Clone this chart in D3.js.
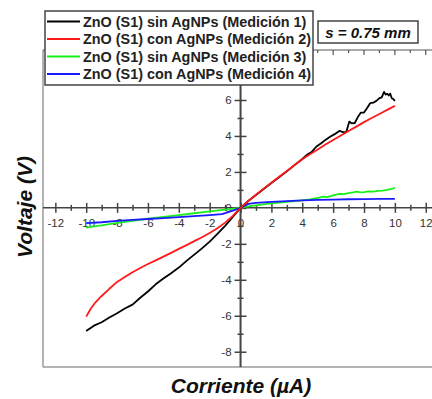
<!DOCTYPE html>
<html>
<head>
<meta charset="utf-8">
<script src="https://cdn.jsdelivr.net/npm/d3@7"></script>
<style>
  body { margin:0; background:#fff; }
  text { font-family: "Liberation Sans", Arial, sans-serif; }
</style>
</head>
<body>
<div id="svg"></div>
<script>
// series: [corriente (uA), voltaje (V)]
var med1 = [[-10,-6.85],[-9.5,-6.55],[-9,-6.36],[-8.5,-6.1],[-8,-5.86],[-7.5,-5.6],[-7,-5.38],[-6.5,-5.0],[-6,-4.65],[-5.5,-4.25],
  [-5,-3.93],[-4.5,-3.63],[-4,-3.32],[-3.5,-2.95],[-3,-2.6],[-2.5,-2.25],[-2,-1.88],[-1.5,-1.45],[-1,-1.0],[-0.5,-0.5],
  [0,0],[0.5,0.38],[1,0.72],[1.5,1.05],[2,1.38],[2.5,1.7],[3,2.03],[3.5,2.38],[4,2.72],[4.3,2.95],[4.6,3.1],[4.9,3.4],
  [5.2,3.58],[5.5,3.78],[5.8,3.95],[6.1,4.1],[6.4,4.28],[6.7,4.2],[6.85,4.22],[7.05,4.8],[7.2,4.7],[7.4,4.72],[7.6,5.05],
  [7.8,5.3],[8.0,5.3],[8.2,5.55],[8.4,5.82],[8.6,5.85],[8.8,5.95],[9.0,6.1],[9.15,6.15],[9.3,6.45],[9.4,6.3],[9.5,6.35],
  [9.6,6.25],[9.7,6.35],[9.8,6.1],[9.9,6.05],[10,5.95]];
var med2 = [[-10,-6.05],[-9.7,-5.6],[-9.4,-5.25],[-9,-4.9],[-8.5,-4.5],[-8,-4.12],[-7.5,-3.85],[-7,-3.58],[-6.5,-3.34],[-6,-3.12],
  [-5.5,-2.92],[-5,-2.71],[-4.5,-2.5],[-4,-2.28],[-3.5,-2.07],[-3,-1.85],[-2.5,-1.63],[-2,-1.4],[-1.5,-1.13],[-1,-0.82],[-0.5,-0.45],
  [0,0],[0.5,0.38],[1,0.73],[1.5,1.07],[2,1.4],[2.5,1.73],[3,2.05],[3.5,2.38],[4,2.7],[4.5,2.98],[5,3.25],[5.5,3.52],[6,3.78],
  [6.5,4.03],[7,4.28],[7.5,4.52],[8,4.77],[8.5,5.0],[9,5.22],[9.5,5.45],[10,5.67]];
var med3 = [[-10,-1.1],[-9.5,-1.03],[-9,-0.97],[-8.5,-0.9],[-8,-0.84],[-7,-0.72],[-6,-0.6],[-5,-0.5],[-4,-0.4],[-3,-0.3],[-2,-0.2],[-1,-0.1],
  [0,0],[0.5,0.08],[1,0.14],[2,0.25],[3,0.33],[4,0.42],[4.5,0.47],[5,0.55],[5.4,0.62],[5.6,0.6],[6,0.7],[6.4,0.78],[6.7,0.76],
  [7,0.82],[7.3,0.86],[7.5,0.9],[7.8,0.86],[8,0.88],[8.3,0.92],[8.6,0.9],[8.9,0.95],[9.2,0.96],[9.5,1.0],[9.8,1.05],[10,1.12]];
var med4 = [[-10,-0.85],[-9,-0.8],[-8,-0.72],[-7,-0.67],[-6,-0.62],[-5,-0.57],[-4,-0.52],[-3,-0.46],[-2,-0.4],[-1.2,-0.35],[-0.5,-0.15],
  [0,0],[0.5,0.22],[1,0.28],[2,0.33],[3,0.38],[4,0.42],[5,0.44],[6,0.46],[7,0.48],[8,0.49],[9,0.5],[10,0.5]];

var seriesNames = ["ZnO (S1) sin AgNPs (Medición 1)","ZnO (S1) con AgNPs (Medición 2)",
                   "ZnO (S1) sin AgNPs (Medición 3)","ZnO (S1) con AgNPs (Medición 4)"];
var seriesColors = ["#000000","#ff1a1a","#19f019","#1a1aff"];
var xTicks = d3.range(-12, 13);
var yTicks = d3.range(-8, 8);

var W = 432, H = 399;
var x = d3.scaleLinear().domain([-12.8, 12.6]).range([43, 435]);
var y = d3.scaleLinear().domain([-8.85, 8.78]).range([367, 50]);

var svg = d3.select("#svg").append("svg").attr("width", W).attr("height", H);

// frame
svg.append("line").attr("x1",43).attr("x2",43).attr("y1",50).attr("y2",367).attr("stroke","#9a9a9a").attr("stroke-width",1.5);
svg.append("line").attr("x1",43).attr("x2",W).attr("y1",367).attr("y2",367).attr("stroke","#9a9a9a").attr("stroke-width",1.5);
svg.append("line").attr("x1",43).attr("x2",W).attr("y1",50).attr("y2",50).attr("stroke","#555").attr("stroke-width",1.2);
// top ticks
svg.append("g").selectAll("line").data(xTicks).enter().append("line")
  .attr("x1", function(d){return x(d);}).attr("x2", function(d){return x(d);})
  .attr("y1", 50).attr("y2", function(d){return d%2===0 ? 55 : 53;})
  .attr("stroke","#555").attr("stroke-width",1.2);

// x axis through zero
var xaxis = svg.append("g").attr("transform","translate(0," + y(0) + ")")
  .call(d3.axisBottom(x).tickValues(xTicks).tickSize(5).tickPadding(6)
    .tickFormat(function(d){return d%2===0 ? d : "";}));
xaxis.select(".domain").attr("d","M43,0H" + W).attr("stroke","#444").attr("stroke-width",1.5);
xaxis.selectAll(".tick line").attr("y1", function(d){return d%2===0 ? -5 : -3;})
  .attr("y2", function(d){return d%2===0 ? 5 : 3;}).attr("stroke","#444").attr("stroke-width",1.5);
xaxis.selectAll(".tick text").attr("font-size",11.5).attr("fill","#333").attr("font-family","Liberation Sans, Arial");

// y axis through zero
var yaxis = svg.append("g").attr("transform","translate(" + x(0) + ",0)")
  .call(d3.axisLeft(y).tickValues(yTicks).tickSize(5).tickPadding(4)
    .tickFormat(function(d){return d%2===0 ? d : "";}));
yaxis.select(".domain").attr("d","M0,50V367").attr("stroke","#444").attr("stroke-width",2);
yaxis.selectAll(".tick line").attr("x1", function(d){return d%2===0 ? 6 : 3;})
  .attr("x2", function(d){return d%2===0 ? -6 : -3;}).attr("stroke","#444").attr("stroke-width",1.5);
yaxis.selectAll(".tick text").attr("font-size",11.5).attr("fill","#333").attr("font-family","Liberation Sans, Arial")
  .attr("dy","0.32em");

// lines
var line = d3.line().x(function(d){return x(d[0]);}).y(function(d){return y(d[1]);});
var allSeries = [med1, med2, med3, med4];
[2,3,0,1].forEach(function(i){
  svg.append("path").attr("d", line(allSeries[i])).attr("fill","none")
    .attr("stroke", seriesColors[i]).attr("stroke-width",1.8).attr("stroke-linejoin","round");
});

// legend
var lg = svg.append("g");
lg.append("rect").attr("x",45).attr("y",11).attr("width",268).attr("height",74)
  .attr("fill","#fff").attr("stroke","#444").attr("stroke-width",1.5);
seriesNames.forEach(function(n, i){
  var yy = 21.5 + i*17.5;
  lg.append("line").attr("x1",47).attr("x2",80).attr("y1",yy).attr("y2",yy)
    .attr("stroke",seriesColors[i]).attr("stroke-width",2);
  lg.append("text").attr("x",83).attr("y",yy+5).attr("font-size",14.4).attr("font-weight","bold")
    .attr("fill","#222").text(n);
});

// s label
svg.append("rect").attr("x",318).attr("y",21).attr("width",100).attr("height",22)
  .attr("fill","#fff").attr("stroke","#444").attr("stroke-width",1.5);
svg.append("text").attr("x",368).attr("y",37.5).attr("text-anchor","middle").attr("font-size",15)
  .attr("font-weight","bold").attr("font-style","italic").attr("fill","#111").text("s = 0.75 mm");

// axis titles
svg.append("text").attr("transform","translate(32,207) rotate(-90)").attr("text-anchor","middle")
  .attr("font-size",21).attr("font-weight","bold").attr("font-style","italic").attr("fill","#111").text("Voltaje (V)");
svg.append("text").attr("x",241).attr("y",393).attr("text-anchor","middle")
  .attr("font-size",21).attr("font-weight","bold").attr("font-style","italic").attr("fill","#111").text("Corriente (µA)");
</script>
</body>
</html>
